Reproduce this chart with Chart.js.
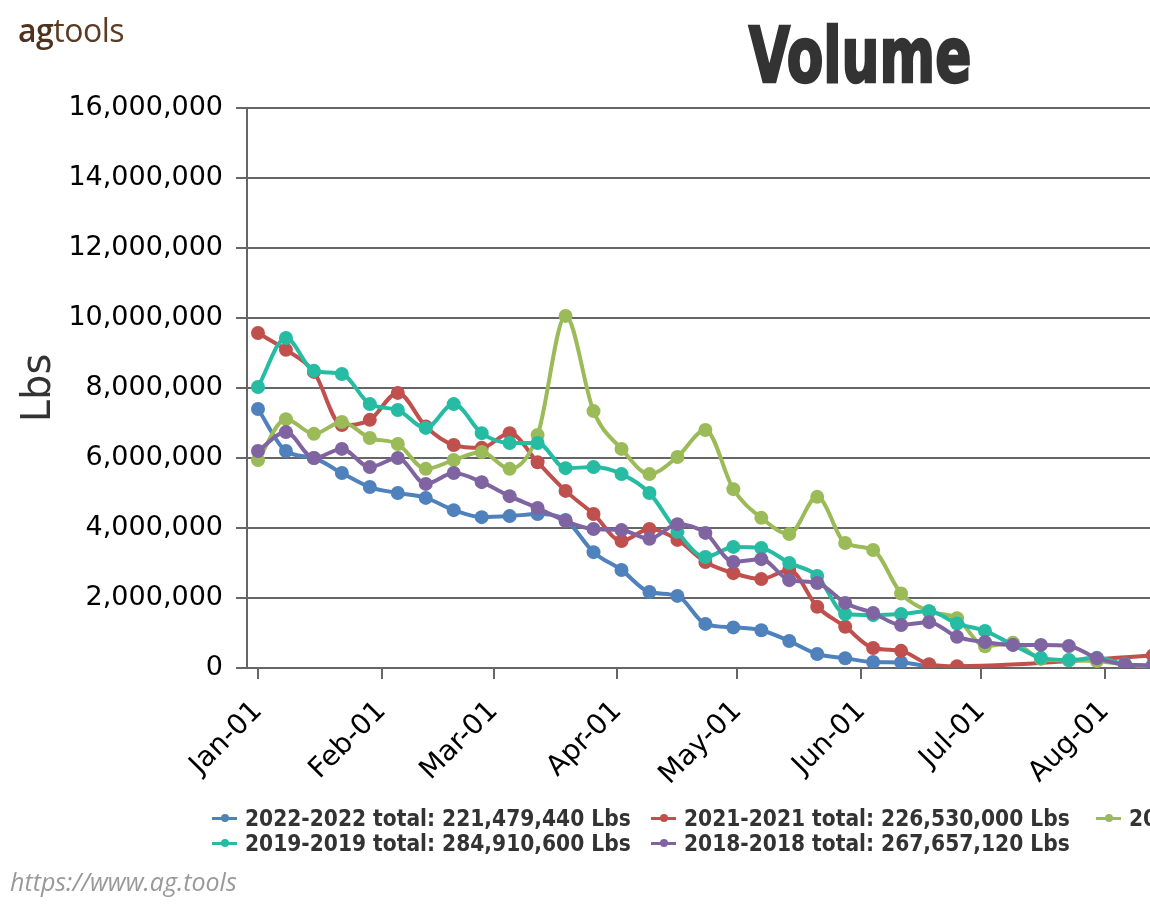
<!DOCTYPE html>
<html>
<head>
<meta charset="utf-8">
<script src="https://cdn.jsdelivr.net/npm/chart.js@4.4.1/dist/chart.umd.min.js"></script>
<style>
  html, body { margin:0; padding:0; background:#fff; overflow:hidden; width:1150px; height:906px; }
  #wrap { position:relative; width:1720px; height:906px; }
  #c { position:absolute; left:0; top:0; }
  #logo { position:absolute; left:18px; top:10px; font-family:'Open Sans',sans-serif; font-size:32px; color:#5b3b22; line-height:40px; letter-spacing:-0.5px; }
  #logo b { font-weight:600; color:#4e321d; }
  #title { position:absolute; left:0; top:17px; width:1720px; text-align:center; font-family:'DejaVu Sans Condensed','DejaVu Sans',sans-serif; font-stretch:condensed; font-weight:bold; font-size:77px; line-height:77px; color:#333; -webkit-text-stroke:2.5px #333; transform:scaleX(0.77); transform-origin:860px 0; }
  .leg { position:absolute; height:26px; line-height:26px; white-space:nowrap; font-family:'DejaVu Sans Condensed','DejaVu Sans',sans-serif; font-stretch:condensed; font-weight:bold; font-size:22.5px; color:#333; }
  .leg .ln { position:absolute; left:0; top:11.5px; width:25px; height:3px; }
  .leg .dot { position:absolute; left:8.5px; top:9px; width:8px; height:8px; border-radius:50%; }
  .leg .tx { position:absolute; left:33px; top:0; }
  #foot { position:absolute; left:10px; top:866px; font-family:'Open Sans',sans-serif; font-style:italic; font-size:25px; color:#999; line-height:30px; }
</style>
</head>
<body>
<div id="wrap">
  <canvas id="c" width="1720" height="906" style="width:1720px;height:906px"></canvas>
  <div id="logo"><b>ag</b>tools</div>
  <div id="title">Volume</div>
  <div id="legend"></div>
  <div id="foot">https://www.ag.tools</div>
</div>
<script>
// ---- data ----
const weeks = ['Jan-01','Jan-08','Jan-15','Jan-22','Jan-29','Feb-05','Feb-12','Feb-19','Feb-26',
  'Mar-05','Mar-12','Mar-19','Mar-26','Apr-02','Apr-09','Apr-16','Apr-23','Apr-30','May-07',
  'May-14','May-21','May-28','Jun-04','Jun-11','Jun-18','Jun-25','Jul-02','Jul-09','Jul-16',
  'Jul-23','Jul-30','Aug-06','Aug-13'];

const monthTicks = ['Jan-01','Feb-01','Mar-01','Apr-01','May-01','Jun-01','Jul-01','Aug-01',
  'Sep-01','Oct-01','Nov-01','Dec-01'];

const yTicks = [0, 2000000, 4000000, 6000000, 8000000, 10000000, 12000000, 14000000, 16000000];

const seriesNames = ['2022-2022','2021-2021','2020-2020','2019-2019','2018-2018'];
const seriesTotals = ['221,479,440','226,530,000','313,000,000','284,910,600','267,657,120'];
const seriesColors = ['#4f81bd','#c0504d','#9bbb59','#26bca4','#8064a2'];

const vol2022 = [7400000,6200000,6000000,5570000,5170000,5000000,4860000,4510000,4310000,
  4340000,4400000,4230000,3310000,2800000,2170000,2060000,1260000,1160000,1080000,770000,
  400000,280000,170000,160000,40000];
const vol2021 = [9570000,9090000,8460000,6940000,7090000,7860000,6900000,6370000,6290000,
  6710000,5880000,5060000,4400000,3630000,3970000,3660000,3030000,2710000,2540000,2800000,
  1750000,1180000,570000,490000,110000,50000,null,null,null,null,null,null,360000];
const vol2020 = [5940000,7110000,6690000,7030000,6570000,6400000,5690000,5940000,6170000,
  5690000,6660000,10060000,7340000,6260000,5540000,6030000,6800000,5110000,4290000,3830000,
  4890000,3570000,3370000,2130000,1620000,1420000,620000,720000,260000,220000,200000,100000,50000];
const vol2019 = [8030000,9430000,8490000,8400000,7540000,7370000,6860000,7540000,6710000,
  6430000,6430000,5710000,5740000,5540000,5000000,3890000,3170000,3460000,3430000,3000000,
  2630000,1540000,1510000,1540000,1620000,1270000,1060000,660000,290000,230000,290000,110000,50000];
const vol2018 = [6200000,6740000,6000000,6260000,5740000,6000000,5260000,5570000,5310000,
  4910000,4570000,4200000,3970000,3940000,3690000,4110000,3860000,3030000,3110000,2510000,
  2430000,1860000,1570000,1230000,1310000,890000,740000,660000,660000,630000,280000,100000,80000];

const seriesValues = [vol2022, vol2021, vol2020, vol2019, vol2018];

// ---- helpers ----
const MON = ['Jan','Feb','Mar','Apr','May','Jun','Jul','Aug','Sep','Oct','Nov','Dec'];
function dayOf(lbl){
  const [m,d] = lbl.split('-');
  return (Date.UTC(2023, MON.indexOf(m), +d) - Date.UTC(2023,0,1)) / 86400000;
}
const weekDays = weeks.map(dayOf);
const monthDays = monthTicks.map(dayOf);

const tickFamily = "'DejaVu Sans',sans-serif";

const datasets = seriesNames.map((name, k) => ({
  label: name + ' total: ' + seriesTotals[k] + ' Lbs',
  data: seriesValues[k].map((v, i) => ({x: weekDays[i], y: v})),
  borderColor: seriesColors[k],
  backgroundColor: seriesColors[k],
  borderWidth: 4,
  pointRadius: 7,
  pointBorderWidth: 0,
  pointHoverRadius: 7,
  cubicInterpolationMode: 'monotone',
  spanGaps: true,
  order: seriesNames.length - 1 - k,
  clip: 0
}));

new Chart(document.getElementById('c'), {
  type: 'line',
  data: { datasets },
  options: {
    responsive: false,
    animation: false,
    devicePixelRatio: 1,
    layout: { padding: { left: 0, top: 108, right: 8, bottom: 118 } },
    plugins: { legend: { display: false }, tooltip: { enabled: false } },
    scales: {
      x: {
        type: 'linear',
        min: -2.75,
        max: 364,
        afterBuildTicks: a => { a.ticks = monthDays.map(v => ({ value: v })); },
        afterFit: a => { a.height = 120; },
        ticks: {
          autoSkip: false, minRotation: 45, maxRotation: 45, padding: 16,
          color: '#000', font: { family: tickFamily, size: 28 },
          callback: v => { const i = monthDays.indexOf(v); return i >= 0 ? monthTicks[i] : ''; }
        },
        grid: { drawOnChartArea: false, drawTicks: true, tickLength: 11, color: '#666', lineWidth: 2 },
        border: { display: true, color: '#666', width: 2 }
      },
      y: {
        min: yTicks[0],
        max: yTicks[yTicks.length - 1],
        afterBuildTicks: a => { a.ticks = yTicks.map(v => ({ value: v })); },
        afterFit: a => { a.width = 247; },
        ticks: {
          padding: 13, color: '#000', font: { family: tickFamily, size: 27 },
          callback: v => v.toLocaleString('en-US')
        },
        grid: { color: '#666', lineWidth: 2, tickLength: 11 },
        border: { display: true, color: '#666', width: 2 },
        title: {
          display: true, text: 'Lbs', color: '#333',
          font: { family: tickFamily, size: 40 },
          padding: { top: 16, bottom: 0 }
        }
      }
    }
  }
});

// ---- legend (HTML) ----
const legPos = [[212, 805], [651, 805], [1096, 805], [212, 830], [651, 830]];
const legEl = document.getElementById('legend');
seriesNames.forEach((name, k) => {
  const d = document.createElement('div');
  d.className = 'leg';
  d.style.left = legPos[k][0] + 'px';
  d.style.top = legPos[k][1] + 'px';
  d.innerHTML = '<span class="ln" style="background:' + seriesColors[k] + '"></span>' +
    '<span class="dot" style="background:' + seriesColors[k] + '"></span>' +
    '<span class="tx">' + datasets[k].label + '</span>';
  legEl.appendChild(d);
});
</script>
</body>
</html>
